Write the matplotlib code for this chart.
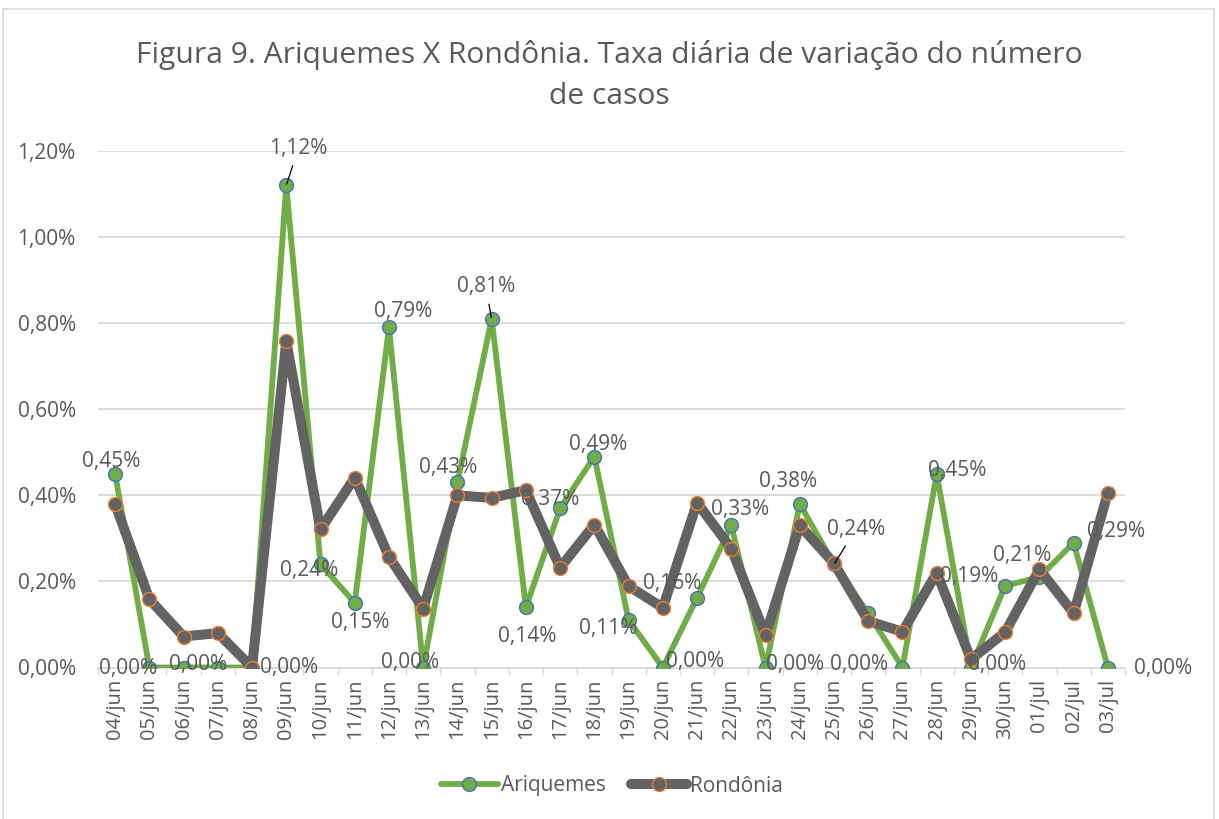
import matplotlib
matplotlib.use("Agg")
import matplotlib.pyplot as plt
from matplotlib.patches import Rectangle
from matplotlib.lines import Line2D
import numpy as np

plt.rcParams['font.family'] = ['Open Sans', 'DejaVu Sans']

# ---------------- data ----------------
dates = ["04/jun", "05/jun", "06/jun", "07/jun", "08/jun", "09/jun", "10/jun", "11/jun",
         "12/jun", "13/jun", "14/jun", "15/jun", "16/jun", "17/jun", "18/jun", "19/jun",
         "20/jun", "21/jun", "22/jun", "23/jun", "24/jun", "25/jun", "26/jun", "27/jun",
         "28/jun", "29/jun", "30/jun", "01/jul", "02/jul", "03/jul"]
# daily variation rate (%)
ariquemes = [0.45, 0.00, 0.00, 0.00, 0.00, 1.12, 0.24, 0.15, 0.79, 0.00,
             0.43, 0.81, 0.14, 0.37, 0.49, 0.11, 0.00, 0.162, 0.33, 0.00,
             0.38, 0.24, 0.126, 0.00, 0.45, 0.00, 0.19, 0.21, 0.29, 0.00]
rondonia = [0.380, 0.159, 0.072, 0.080, 0.000, 0.758, 0.321, 0.441, 0.257, 0.137,
            0.400, 0.394, 0.412, 0.232, 0.332, 0.189, 0.139, 0.383, 0.276, 0.075,
            0.330, 0.242, 0.108, 0.083, 0.220, 0.019, 0.082, 0.228, 0.126, 0.406]
series_names = ["Ariquemes", "Rondônia"]
yticks = [0.0, 0.2, 0.4, 0.6, 0.8, 1.0, 1.2]

# label placement (offsets in pixels: dx right, dy down) for Ariquemes data labels
label_idx = [0, 1, 2, 4, 5, 6, 7, 8, 9, 10, 11, 12, 13, 14, 15, 16, 17, 18, 19, 20,
             21, 23, 24, 25, 26, 27, 28, 29]
label_dx = [-4, -21, 14, 37, 12, -11, 5, 14, -13, -9, -6, 1, -10, 4, -20, 32, -25, 9, 30, -12,
            22, -43, 20, 26, -36, -17, 42, 55]
label_dy = [-12, 1, -3, 0, -37, 6, 20, -16, -5, -15, -32, 29, -9, -12, 8, -6, -14, -16, -3, -22,
            -35, -3, -3, -3, -9, -22, -11, 1]
leader_idx = [5, 11, 21]

# ---------------- style ----------------
W, H = 1219, 819
GREEN = "#70AD47"
BLUE = "#4472C4"
GRAY = "#636363"
ORANGE = "#ED7D31"
TXT = "#595959"
GRID = "#D9D9D9"
PX = 0.72  # points per pixel at dpi=100
FS = 15
LW_A, LW_R, MS = 4.2, 7.2, 10

fig = plt.figure(figsize=(W / 100, H / 100), dpi=100)
fig.patches.append(Rectangle((3 / W, -0.01), (1214 - 3) / W, 1.01 - 9 / H,
                             transform=fig.transFigure, fill=False,
                             edgecolor=GRID, linewidth=1.2))

ax = fig.add_axes([98 / W, 1 - 667.5 / H, (1125 - 98) / W, (667.5 - 151) / H])
x = np.arange(len(dates))

ax.plot(x, ariquemes, color=GREEN, lw=LW_A, marker='o', ms=MS,
        markerfacecolor=GREEN, markeredgecolor=BLUE, markeredgewidth=1.0,
        solid_capstyle='round', solid_joinstyle='round', zorder=3)
ax.plot(x, rondonia, color=GRAY, lw=LW_R, marker='o', ms=MS,
        markerfacecolor=GRAY, markeredgecolor=ORANGE, markeredgewidth=1.0,
        solid_capstyle='round', solid_joinstyle='round', zorder=4)

ax.set_xlim(-0.5, len(dates) - 0.5)
ax.set_ylim(0, 1.2)
ax.set_yticks(yticks)
ax.set_yticklabels([f"{v:.2f}%".replace('.', ',') for v in yticks])
ax.set_xticks(x)
ax.set_xticklabels(dates, rotation=90)
ax.set_xticks(np.arange(-0.5, len(dates), 1), minor=True)
ax.tick_params(axis='x', which='major', length=0, pad=8, labelsize=14.5, colors=TXT)
ax.tick_params(axis='x', which='minor', length=5, width=1, color=GRID, direction='out')
ax.tick_params(axis='y', length=0, pad=16, labelsize=FS, colors=TXT)
ax.grid(axis='y', color=GRID, lw=1.3)
ax.set_axisbelow(True)
for s in ['top', 'right', 'left']:
    ax.spines[s].set_visible(False)
ax.spines['bottom'].set_color(GRID)
ax.spines['bottom'].set_linewidth(1.3)
ax.spines['bottom'].set_zorder(0.5)

for k, i in enumerate(label_idx):
    txt = f"{ariquemes[i]:.2f}%".replace('.', ',')
    dx, dy = label_dx[k], label_dy[k]
    kw = dict(textcoords='offset points', ha='center', va='center',
              fontsize=FS, color=TXT, zorder=10)
    if i in leader_idx:
        kw['arrowprops'] = dict(arrowstyle='-', color='black', lw=0.9, shrinkA=3, shrinkB=1)
    ax.annotate(txt, (x[i], ariquemes[i]), xytext=(dx * PX, -dy * PX), **kw)

fig.text(609 / W, 1 - 55 / H,
         "Figura 9. Ariquemes X Rondônia. Taxa diária de variação do número",
         ha='center', va='center', fontsize=21.6, color=TXT)
fig.text(609 / W, 1 - 96 / H, "de casos", ha='center', va='center', fontsize=21.6, color=TXT)

handles = [Line2D([], [], color=GREEN, lw=LW_A, marker='o', ms=MS, markerfacecolor=GREEN,
                  markeredgecolor=BLUE, solid_capstyle='round'),
           Line2D([], [], color=GRAY, lw=LW_R, marker='o', ms=MS, markerfacecolor=GRAY,
                  markeredgecolor=ORANGE, solid_capstyle='round')]
leg = fig.legend(handles, series_names, loc='center', bbox_to_anchor=(612 / W, 1 - 786 / H),
                 ncol=2, frameon=False, fontsize=FS, handlelength=2.7, handletextpad=0.15,
                 columnspacing=1.2, labelcolor=TXT)

fig.savefig("out.png", dpi=100)
